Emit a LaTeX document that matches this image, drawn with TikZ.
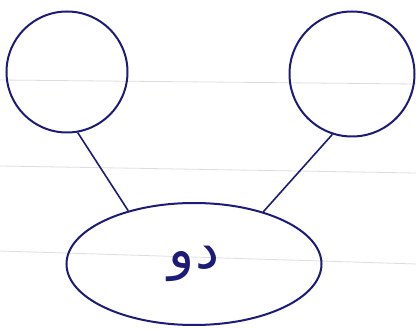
\documentclass[tikz,border=0pt]{standalone}
\usepackage{fontspec}
\usetikzlibrary{shapes.geometric}
\newfontfamily\arabicfont[Script=Arabic]{DejaVu Sans}
\TeXXeTstate=1
\definecolor{ink}{RGB}{28,28,120}
\definecolor{rule}{RGB}{218,222,228}
\begin{document}
\begin{tikzpicture}[x=1pt,y=-1pt,
  ball/.style={circle,draw=ink,line width=2pt,minimum size=121pt,inner sep=0pt},
  oval/.style={ellipse,draw=ink,line width=2pt,minimum width=255pt,minimum height=122pt,inner sep=0pt,text=ink},
  link/.style={draw=ink,line width=1.6pt},
  ruled/.style={draw=rule,line width=0.8pt}]
\useasboundingbox (0,0) rectangle (416,329);
\fill[white] (0,0) rectangle (416,329);
\draw[ruled] (0,80) -- (416,84);
\draw[ruled] (0,166) -- (416,173);
\draw[ruled] (0,251) -- (416,264);
\node[ball] (L) at (67,72) {};
\node[ball,minimum size=125pt] (R) at (352,74) {};
\node[oval] (E) at (194,264) {\fontsize{54}{60}\selectfont\arabicfont\beginR دو\endR};
\draw[link] (L.-80) -- (E.141);
\draw[link] (R.-108) -- (E.37);
\end{tikzpicture}
\end{document}
